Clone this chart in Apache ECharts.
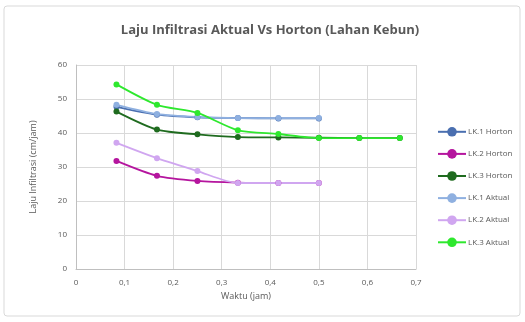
<!DOCTYPE html>
<html><head><meta charset="utf-8">
<script src="https://cdn.jsdelivr.net/npm/echarts@6/dist/echarts.min.js"></script>
<style>html,body{margin:0;padding:0;background:#fff}#c{width:525px;height:322px}</style>
</head><body><div id="c"></div>
<script>
const times = [0.0833, 0.1667, 0.25, 0.3333, 0.4167, 0.5, 0.5833, 0.6667];
const seriesNames = ['LK.1 Horton','LK.2 Horton','LK.3 Horton','LK.1 Aktual','LK.2 Aktual','LK.3 Aktual'];
const lk1Horton = [47.7, 45.4, 44.6, 44.4, 44.3, 44.3];
const lk2Horton = [31.8, 27.4, 25.9, 25.4, 25.3, 25.3];
const lk3Horton = [46.3, 41.0, 39.6, 38.8, 38.7, 38.6, 38.5, 38.5];
const lk1Aktual = [48.3, 45.6, 44.7, 44.4, 44.4, 44.4];
const lk2Aktual = [37.1, 32.6, 28.8, 25.3, 25.3, 25.3];
const lk3Aktual = [54.3, 48.3, 45.9, 40.8, 39.7, 38.5, 38.5, 38.5];
const xTicks = [0,0.1,0.2,0.3,0.4,0.5,0.6,0.7];
const yTicks = [0,10,20,30,40,50,60];

const colors = ['#4a6fb0','#b5159e','#1f6b1f','#8fb0e0','#d0a6f0','#2ee82e'];
const allData = [lk1Horton,lk2Horton,lk3Horton,lk1Aktual,lk2Aktual,lk3Aktual];
const chart = echarts.init(document.getElementById('c'));
chart.setOption({
  animation:false,
  graphic:[{type:'rect',shape:{x:4,y:6,width:516,height:310,r:3},style:{fill:'none',stroke:'#d9d9d9',lineWidth:1},silent:true}],
  title:{text:'Laju Infiltrasi Aktual Vs Horton (Lahan Kebun)',left:265,top:19,textAlign:'center',
    textStyle:{fontFamily:'Open Sans',fontSize:13,fontWeight:'bold',color:'#595959'}},
  legend:{orient:'vertical',left:432,top:122,itemGap:12.5,itemWidth:28,itemHeight:12,
    data:seriesNames,
    textStyle:{fontFamily:'Open Sans',fontSize:8,color:'#595959',padding:[0,0,0,-3]}},
  grid:{left:76,right:109,top:65,bottom:53},
  xAxis:{type:'value',min:0,max:0.7,interval:0.1,
    name:'Waktu (jam)',nameLocation:'middle',nameGap:20,
    nameTextStyle:{fontFamily:'Open Sans',fontSize:9,color:'#595959'},
    axisLine:{show:true,lineStyle:{color:'#bfbfbf'}},axisTick:{show:false},
    axisLabel:{fontFamily:'Open Sans',fontSize:8,color:'#595959',margin:10,
      formatter:v=>{const t=xTicks.find(x=>Math.abs(x-v)<1e-6);return (t===0?'0':String(t).replace('.',','));}},
    splitLine:{show:true,lineStyle:{color:'#d9d9d9'}}},
  yAxis:{type:'value',min:0,max:60,interval:10,
    name:'Laju Infiltrasi (cm/jam)',nameLocation:'middle',nameGap:38,
    nameTextStyle:{fontFamily:'Open Sans',fontSize:9,color:'#595959'},
    axisLine:{show:true,lineStyle:{color:'#bfbfbf'}},axisTick:{show:false},
    axisLabel:{fontFamily:'Open Sans',fontSize:8,color:'#595959',margin:9,
      formatter:v=>String(yTicks.find(y=>y===v) ?? v)},
    splitLine:{show:true,lineStyle:{color:'#d9d9d9'}}},
  series: seriesNames.map((n,i)=>({
    name:n,type:'line',smooth:0.25,
    data: allData[i].map((v,j)=>[times[j],v]),
    symbol:'circle',symbolSize:6,
    lineStyle:{width:1.8,color:colors[i]},
    itemStyle:{color:colors[i]}
  }))
});
</script></body></html>
